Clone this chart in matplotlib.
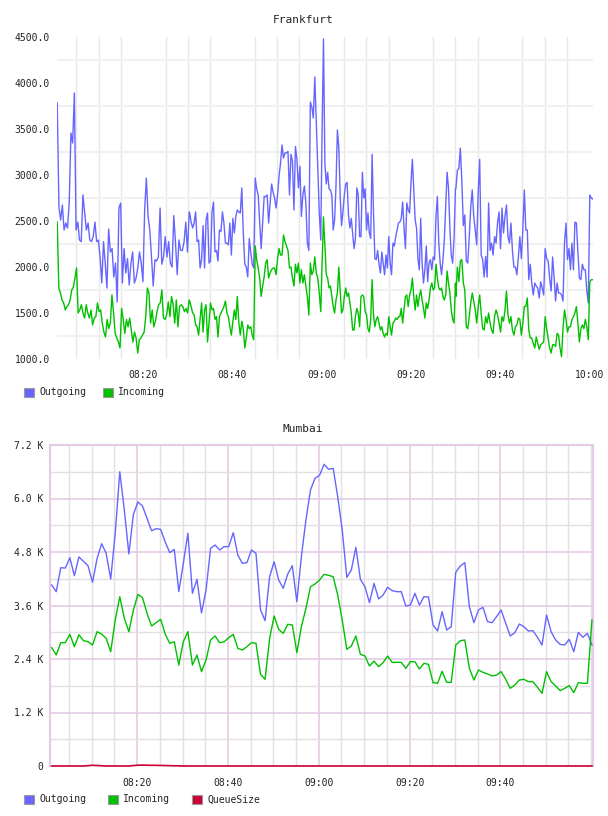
import numpy as np
import matplotlib.pyplot as plt
from matplotlib.patches import Rectangle
from matplotlib.ticker import FixedLocator, MultipleLocator, FuncFormatter

plt.rcParams['font.family'] = ['DejaVu Sans Mono']

fra_chunks = [(0.7, 30.3), (30.4, 59.8), (60.1, 90.0), (90.1, 120.8)]

fra_out_a = [3783, 2652, 2511, 2674, 2402, 2478, 2424, 2696, 3457, 3348, 3891, 2402, 2488, 2293, 2276,
             2783, 2598, 2402, 2478, 2293, 2276, 2330, 2488, 2276, 2293, 2109, 1826, 2276, 2043, 1772,
             2413, 2163, 2200, 1891, 2043, 1620, 2641, 2696, 1826, 2200, 1935, 2091, 1804, 2043, 2163,
             1826, 1880, 1989, 2163, 2043, 1840, 2620, 2967, 2550, 2402, 2109, 1793, 2080, 2065, 2109,
             2641, 2030, 2109, 2330, 2109, 2276, 2043, 2000, 2560, 2260, 1916, 2293, 2180, 2180, 2276,
             2488, 2163, 2598]
fra_out_b = [2587, 2488, 2424, 2478, 2598, 2276, 2293, 1989, 2080, 2450, 1989, 2511, 2587, 2043, 2065,
             2598, 2706, 2163, 2180, 2065, 2402, 2385, 2598, 2478, 2260, 2260, 2240, 2478, 2130, 2528,
             2370, 2550, 2620, 2598, 2587, 2859, 2370, 2030, 2000, 1891, 2310, 2163, 2030, 1989, 2967,
             2850, 2783, 2488, 2200, 2478, 2766, 2766, 2783, 2478, 2696, 2902, 2815, 2750, 2641, 2783,
             2989, 3130, 3326, 3185, 3240, 3240, 3255, 2783, 3225, 3152, 2620, 3310, 3170, 2860, 3095,
             2550, 2783, 2880, 2696, 2260, 2180, 3794, 3740, 3620, 4065, 3565, 3050, 2587, 2293]
fra_out_c = [3489, 4478, 3130, 2902, 3030, 2850, 2837, 2783, 2402, 2511, 2880, 3489, 3310, 2783, 2450,
             2598, 2783, 2902, 2920, 2565, 2424, 2528, 2370, 2200, 2310, 2860, 2783, 2330, 2330, 3030,
             2750, 2850, 2402, 2587, 2370, 2310, 3225, 2598, 2091, 2080, 2180, 2030, 1935, 2163, 2043,
             1916, 2130, 1989, 2330, 2043, 1916, 2260, 2228, 2330, 2402, 2478, 2488, 2528, 2706, 2424,
             2200, 2696, 2620, 2587, 2920, 3170, 2850, 2511, 2424, 2091, 1970, 2528, 2043, 1826, 1970,
             2228, 1840, 2043, 2080, 1970, 2109, 2080, 2550, 2766, 2260, 2043, 1916, 2080, 2293, 2652,
             3030, 2860, 2424, 2130, 2043, 2310, 2850]
fra_out_d = [2850, 3050, 3070, 3293, 2940, 2450, 2565, 2065, 2043, 2330, 2652, 2837, 2550, 2402, 2240,
             2815, 3170, 2130, 2080, 1891, 2115, 1891, 2696, 2180, 2260, 2130, 2330, 2260, 2478, 2598,
             2200, 2641, 2370, 2550, 2674, 2330, 2260, 2478, 2180, 2000, 2000, 1916, 2109, 2330, 2091,
             2402, 2837, 2402, 2402, 1862, 2030, 1826, 1696, 1826, 1793, 1772, 1663, 1840, 1772, 1696,
             2200, 2091, 2065, 1880, 1739, 2109, 1891, 1630, 1826, 1717, 1717, 1696, 1630, 2260, 2478,
             2080, 2200, 1970, 2260, 1970, 2488, 2478, 2163, 1880, 1862, 2030, 1970, 1970, 1739, 1609,
             2783, 2750, 2739]

fra_in_a = [2489, 1772, 1717, 1641, 1609, 1533, 1570, 1590, 1641, 1750, 1780, 1880, 1989, 1500, 1533,
            1590, 1500, 1445, 1590, 1500, 1445, 1533, 1370, 1445, 1460, 1609, 1515, 1533, 1390, 1293,
            1239, 1430, 1330, 1390, 1696, 1500, 1278, 1228, 1185, 1120, 1550, 1430, 1278, 1430, 1350,
            1445, 1315, 1185, 1293, 1228, 1065, 1210, 1228, 1260, 1293, 1460, 1772, 1717, 1390, 1533,
            1350, 1410, 1515, 1590, 1609, 1750, 1445, 1430, 1480, 1620, 1460, 1680, 1590, 1390, 1641,
            1350, 1570, 1590, 1570, 1515, 1550, 1500, 1641]
fra_in_b = [1630, 1570, 1500, 1480, 1370, 1350, 1260, 1430, 1609, 1293, 1533, 1590, 1185, 1390, 1609,
            1533, 1550, 1430, 1460, 1239, 1460, 1500, 1533, 1570, 1630, 1500, 1460, 1350, 1260, 1410,
            1533, 1430, 1680, 1390, 1260, 1410, 1330, 1120, 1228, 1370, 1330, 1350, 1260, 1210, 2228,
            2080, 1989, 1880, 1680, 1793, 1891, 2043, 2080, 1880, 1935, 1970, 1989, 1989, 1916, 2091,
            2200, 2130, 2130, 2348, 2276, 2228, 2180, 1989, 2000, 1880, 1793, 2030, 1935, 2043, 1826,
            1970, 1826, 1916, 1793, 1680, 1478, 2043, 1916, 1955, 2109, 1935, 1880, 1717, 1515]
fra_in_c = [2043, 2544, 2228, 1916, 1880, 1772, 1793, 1680, 1570, 1500, 1641, 1717, 2000, 1750, 1500,
            1533, 1680, 1772, 1680, 1717, 1609, 1500, 1315, 1315, 1460, 1550, 1500, 1350, 1680, 1696,
            1680, 1515, 1480, 1330, 1293, 1430, 1862, 1480, 1350, 1430, 1460, 1390, 1315, 1350, 1278,
            1239, 1278, 1260, 1460, 1350, 1260, 1390, 1410, 1445, 1430, 1460, 1460, 1550, 1390, 1533,
            1680, 1696, 1570, 1696, 1750, 1880, 1680, 1533, 1696, 1570, 1680, 1750, 1641, 1550, 1445,
            1609, 1550, 1641, 1772, 1826, 1750, 1772, 2030, 1880, 1772, 1750, 1772, 1680, 1641, 1696,
            1955, 1826, 1717, 1533, 1430, 1390, 1826]
fra_in_d = [1680, 2000, 1840, 2065, 2080, 1826, 1750, 1350, 1330, 1460, 1609, 1717, 1630, 1533, 1390,
            1570, 1696, 1500, 1330, 1315, 1460, 1390, 1500, 1390, 1315, 1278, 1460, 1533, 1480, 1390,
            1293, 1460, 1410, 1533, 1739, 1480, 1390, 1460, 1315, 1260, 1350, 1370, 1445, 1430, 1260,
            1390, 1570, 1570, 1663, 1315, 1228, 1228, 1170, 1120, 1239, 1170, 1105, 1155, 1170, 1185,
            1460, 1330, 1228, 1120, 1065, 1155, 1155, 1137, 1278, 1260, 1120, 1025, 1330, 1533, 1430,
            1293, 1350, 1350, 1430, 1460, 1500, 1570, 1390, 1185, 1330, 1370, 1330, 1430, 1350, 1210,
            1840, 1862, 1862]

fra_yticks = [1000, 1500, 2000, 2500, 3000, 3500, 4000, 4500]

# ---- Mumbai (one sample per minute from 08:01:10) ----
mum_start = 1.17
mum_out = [4060, 3910, 4448, 4440, 4672, 4268, 4690, 4590, 4493, 4120, 4655, 4986, 4770, 4194, 5220,
           6601, 5742, 4755, 5645, 5922, 5832, 5555, 5278, 5323, 5308, 5027, 4785, 4860, 3910, 4546,
           5220, 3873, 4187, 3432, 3948, 4883, 4957, 4845, 4920, 4920, 5233, 4733, 4546, 4560, 4845,
           4770, 3500, 3260, 4246, 4583, 4172, 3986, 4306, 4493, 3686, 4695, 5518, 6190, 6453, 6520,
           6767, 6655, 6677, 6040, 5293, 4232, 4396, 4905, 4187, 4022, 3663, 4097, 3746, 3836, 4008,
           3933, 3910, 3910, 3589, 3610, 3873, 3610, 3798, 3790, 3163, 3028, 3461, 3050, 3125, 4344,
           4486, 4560, 3573, 3215, 3500, 3559, 3238, 3215, 3350, 3500, 3200, 2916, 2990, 3185, 3125,
           3028, 3035, 2886, 2714, 3387, 3013, 2826, 2729, 2714, 2841, 2564, 2998, 2886, 2975, 2714]
mum_in = [2654, 2490, 2766, 2766, 2953, 2676, 2945, 2810, 2788, 2714, 3013, 2960, 2863, 2564, 3275,
          3798, 3313, 3013, 3500, 3850, 3776, 3425, 3140, 3215, 3290, 2960, 2752, 2788, 2265, 2788,
          3013, 2265, 2490, 2116, 2378, 2826, 2916, 2766, 2788, 2878, 2953, 2639, 2602, 2676, 2766,
          2752, 2056, 1944, 2863, 3365, 3066, 2975, 3178, 3163, 2541, 3125, 3537, 4022, 4082, 4172,
          4299, 4277, 4246, 3836, 3275, 2616, 2691, 2916, 2505, 2467, 2243, 2355, 2228, 2318, 2467,
          2325, 2325, 2325, 2190, 2340, 2340, 2176, 2303, 2280, 1870, 1855, 2124, 1877, 1877, 2714,
          2810, 2826, 2190, 1929, 2153, 2101, 2064, 2019, 2041, 2116, 1944, 1742, 1817, 1929, 1944,
          1892, 1892, 1765, 1630, 2116, 1892, 1795, 1690, 1742, 1802, 1645, 1870, 1855, 1855, 3275]
mum_queue = [0, 0, 0, 0, 0, 0, 0, 0, 8, 15, 12, 5, 0, 0, 0, 0, 0, 0, 10, 18, 20, 18, 15, 15,
             12, 10, 8, 5, 3, 0] + [0] * 90
mum_yticks = [0, 1200, 2400, 3600, 4800, 6000, 7200]
mum_ylabels = ['0', '1.2 K', '2.4 K', '3.6 K', '4.8 K', '6.0 K', '7.2 K']

c_out, c_in, c_q = '#6666ff', '#00c000', '#cc0033'
W, H = 608, 816


def hhmm(m, pos=None):
    m = int(round(m))
    return f'{8 + m // 60:02d}:{m % 60:02d}'


def chunk_times(parts):
    return np.concatenate([np.linspace(a, b, len(p)) for (a, b), p in zip(fra_chunks, parts)])


fig = plt.figure(figsize=(W / 100, H / 100), dpi=100)

# ---------- Frankfurt ----------
ax1 = fig.add_axes([57 / W, 1 - 359 / H, 536 / W, 322 / H])
t_out = chunk_times([fra_out_a, fra_out_b, fra_out_c, fra_out_d])
t_in = chunk_times([fra_in_a, fra_in_b, fra_in_c, fra_in_d])
ax1.plot(t_out, fra_out_a + fra_out_b + fra_out_c + fra_out_d, color=c_out, lw=1.0, zorder=3)
ax1.plot(t_in, fra_in_a + fra_in_b + fra_in_c + fra_in_d, color=c_in, lw=1.0, zorder=3)
ax1.set_xlim(0.65, 120.85)
ax1.set_ylim(1000, 4500)
for s in ax1.spines.values():
    s.set_visible(False)
ax1.yaxis.set_major_locator(FixedLocator(fra_yticks))
ax1.yaxis.set_major_formatter(FuncFormatter(lambda v, p: f'{v:.1f}'))
ax1.yaxis.set_minor_locator(FixedLocator([v + 250 for v in fra_yticks[:-1]]))
ax1.xaxis.set_major_locator(MultipleLocator(20))
ax1.xaxis.set_major_formatter(FuncFormatter(hhmm))
ax1.xaxis.set_minor_locator(MultipleLocator(5))
ax1.grid(which='minor', axis='y', color='#f0f0f0', lw=1.5)
ax1.grid(which='minor', axis='x', color='#e8e8e8', lw=1.0)
ax1.tick_params(which='both', length=0, labelsize=7, colors='#222222')
ax1.tick_params(axis='y', pad=5)
ax1.tick_params(axis='x', pad=8)
ax1.set_axisbelow(True)
fig.text(303 / W, 1 - 20 / H, 'Frankfurt', ha='center', va='center', fontsize=8, color='#222222')

# ---------- Mumbai ----------
ax2 = fig.add_axes([50 / W, 1 - 766 / H, 543 / W, 321 / H])
mum_t = mum_start + np.arange(len(mum_out))
ax2.plot(mum_t, mum_out, color=c_out, lw=1.0, zorder=3)
ax2.plot(mum_t, mum_in, color=c_in, lw=1.0, zorder=3)
ax2.plot(mum_t, mum_queue, color=c_q, lw=1.2, zorder=4, clip_on=False)
ax2.set_xlim(0.8, 120.4)
ax2.set_ylim(0, 7200)
purple = '#e4cce4'
for k, s in ax2.spines.items():
    s.set_visible(k != 'bottom')
    s.set_color(purple)
    s.set_linewidth(1.5)
ax2.yaxis.set_major_locator(FixedLocator(mum_yticks))
ax2.set_yticklabels(mum_ylabels)
ax2.yaxis.set_minor_locator(MultipleLocator(600))
ax2.xaxis.set_major_locator(FixedLocator([20, 40, 60, 80, 100]))
ax2.xaxis.set_major_formatter(FuncFormatter(hhmm))
ax2.xaxis.set_minor_locator(MultipleLocator(5))
ax2.grid(which='minor', color='#e3dfe3', lw=1)
ax2.grid(which='major', color=purple, lw=1.2)
ax2.tick_params(which='both', length=0, labelsize=7, colors='#222222')
ax2.tick_params(axis='y', pad=5)
ax2.tick_params(axis='x', pad=9)
ax2.set_axisbelow(True)
fig.text(303 / W, 1 - 429 / H, 'Mumbai', ha='center', va='center', fontsize=8, color='#222222')


# ---------- legends ----------
def legend_item(x, y, color, label):
    fig.add_artist(Rectangle((x / W, 1 - (y + 9) / H), 10 / W, 9 / H, transform=fig.transFigure,
                             facecolor=color, edgecolor='#999999', lw=0.8))
    fig.text((x + 15) / W, 1 - (y + 4.5) / H, label, ha='left', va='center', fontsize=7,
             color='#222222')


legend_item(24, 388, c_out, 'Outgoing')
legend_item(103, 388, c_in, 'Incoming')
legend_item(24, 795, c_out, 'Outgoing')
legend_item(108, 795, c_in, 'Incoming')
legend_item(192, 795, c_q, 'QueueSize')

fig.savefig('out.png', dpi=100)
